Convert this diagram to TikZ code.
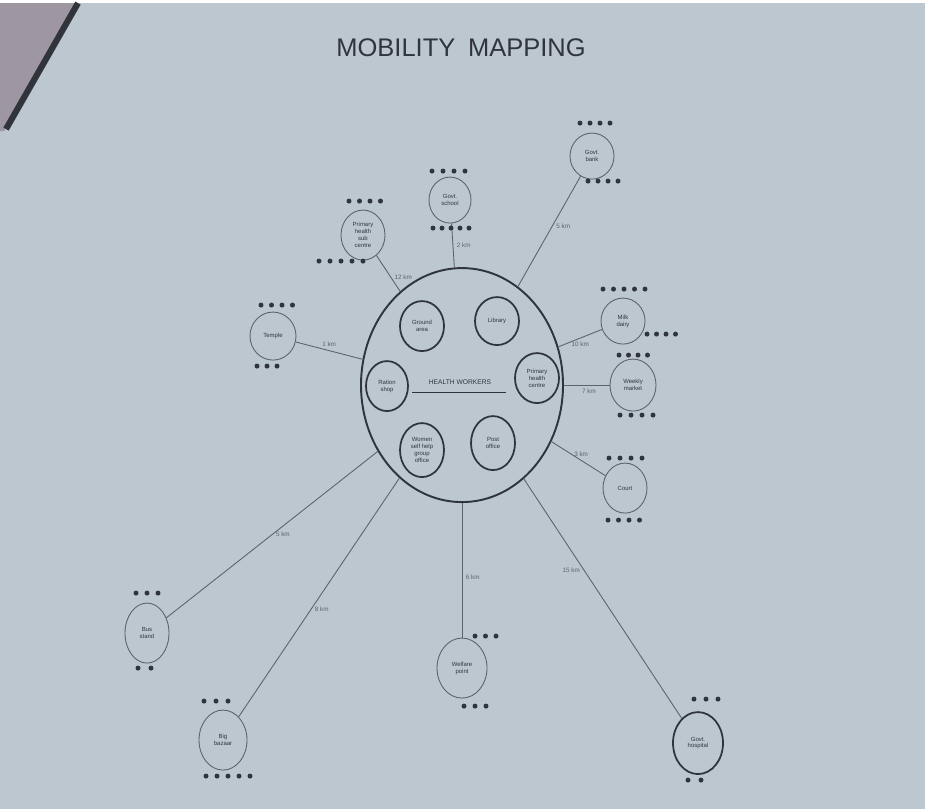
\documentclass[tikz,border=0pt]{standalone}
\usepackage{fontspec}
\setmainfont{Liberation Sans}
\usetikzlibrary{shapes.geometric}

\definecolor{paper}{RGB}{189,199,208}
\definecolor{desk}{RGB}{158,150,160}
\definecolor{pen}{RGB}{48,53,60}
\definecolor{pencil}{RGB}{92,99,108}

% row of dots: x, y, count, spacing
\newcommand{\dotrow}[4]{%
  \foreach \i in {1,...,#3} \fill[pen] ({#1+(\i-1)*#4},#2) circle [radius=2.5];}

\begin{document}
\begin{tikzpicture}[x=0.02cm,y=-0.02cm,
    wh/.style 2 args={minimum width=#1*0.02cm, minimum height=#2*0.02cm},
    place/.style={ellipse, draw=pencil, line width=0.5pt, inner sep=0pt, align=center,
      text=pen, font=\fontsize{3.4}{3.9}\selectfont},
    inner/.style={ellipse, draw=pen, line width=1pt, inner sep=0pt, align=center,
      text=pen, font=\fontsize{3.4}{3.9}\selectfont},
    road/.style={draw=pencil, line width=0.5pt},
    dist/.style={font=\fontsize{3.6}{4}\selectfont, text=pencil, inner sep=2pt}]

        % Paper and desk corner
        \fill[paper] (0,0) rectangle (925,806);
        \fill[desk] (0,0) -- (76,0) -- (4,128) -- (0,128) -- cycle;
        \draw[pen, line width=3.5pt] (78,0) -- (6,126);

        % Title
        \node[text=pen, font=\fontsize{14.5}{17}\selectfont] (title) at (461,45) {MOBILITY\enspace MAPPING};

        % Village (big circle) and what is inside it
        \node[ellipse, draw=pen, line width=1.1pt, wh={202}{234}] (habit) at (462,382) {};
        \node[text=pen, inner sep=1pt, font=\fontsize{3.8}{4}\selectfont] (hw) at (460,379) {HEALTH WORKERS};
        \draw[pen, line width=0.5pt] (412,389) -- (506,389);

        \node[inner, wh={44}{50}] (ground) at (422,323) {Ground\\area};
        \node[inner, wh={44}{48}] (library) at (497,318) {Library};
        \node[inner, wh={42}{50}] (ration) at (387,383) {Ration\\shop};
        \node[inner, wh={44}{50}] (health) at (537,375) {Primary\\health\\centre};
        \node[inner, wh={44}{54}] (women) at (422,447) {Women\\self help\\group\\office};
        \node[inner, wh={44}{54}] (post) at (493,440) {Post\\office};

        % Places visited outside the village
        \node[place, wh={44}{50}] (subcentre) at (363,232) {Primary\\health\\sub\\centre};
        \node[place, wh={42}{46}] (school) at (450,197) {Govt.\\school};
        \node[place, wh={44}{46}] (bank) at (592,153) {Govt.\\bank};
        \node[place, wh={46}{48}] (temple) at (273,333) {Temple};
        \node[place, wh={44}{46}] (dairy) at (623,318) {Milk\\dairy};
        \node[place, wh={46}{52}] (market) at (633,382) {Weekly\\market};
        \node[place, wh={44}{50}] (court) at (625,485) {Court};
        \node[place, draw=pen, line width=1pt, wh={50}{62}] (hospital) at (698,740) {Govt.\\hospital};
        \node[place, wh={50}{60}] (welfare) at (462,665) {Welfare\\point};
        \node[place, wh={44}{60}] (busstand) at (147,630) {Bus\\stand};
        \node[place, wh={48}{60}] (bazaar) at (223,737) {Big\\bazaar};

        % Roads with distances
        \draw[road] (subcentre) -- node[dist, pos=0.6, right] {12 km} (habit);
        \draw[road] (school) -- node[dist, pos=0.5, right] {2 km} (habit);
        \draw[road] (bank) -- node[dist, pos=0.45, right] {5 km} (habit);
        \draw[road] (temple) -- node[dist, pos=0.5, above] {1 km} (habit);
        \draw[road] (dairy) -- node[dist, pos=0.5, below] {10 km} (habit);
        \draw[road] (market) -- node[dist, pos=0.45, below] {7 km} (habit);
        \draw[road] (court) -- node[dist, pos=0.45, above] {3 km} (habit);
        \draw[road] (hospital) -- node[dist, pos=0.62, left] {15 km} (habit);
        \draw[road] (welfare) -- node[dist, pos=0.45, right] {6 km} (habit);
        \draw[road] (busstand) -- node[dist, pos=0.5, right] {5 km} (habit);
        \draw[road] (bazaar) -- node[dist, pos=0.45, right] {8 km} (habit);

        % Dots for how often people go
        \dotrow{349}{198}{4}{10.5} \dotrow{319}{258}{5}{11}
        \dotrow{432}{168}{4}{11} \dotrow{433}{225}{5}{9}
        \dotrow{580}{120}{4}{10} \dotrow{588}{178}{4}{10}
        \dotrow{261}{302}{4}{10.5} \dotrow{257}{363}{3}{10}
        \dotrow{603}{286}{5}{10.5} \dotrow{647}{331}{4}{9.5}
        \dotrow{619}{352}{4}{9.5} \dotrow{620}{412}{4}{11}
        \dotrow{609}{455}{4}{11} \dotrow{608}{517}{4}{10.5}
        \dotrow{694}{696}{3}{12} \dotrow{688}{777}{2}{13}
        \dotrow{475}{633}{3}{10.5} \dotrow{464}{703}{3}{11}
        \dotrow{136}{590}{3}{11} \dotrow{138}{665}{2}{13}
        \dotrow{204}{698}{3}{12} \dotrow{206}{773}{5}{11}

\end{tikzpicture}
\end{document}
